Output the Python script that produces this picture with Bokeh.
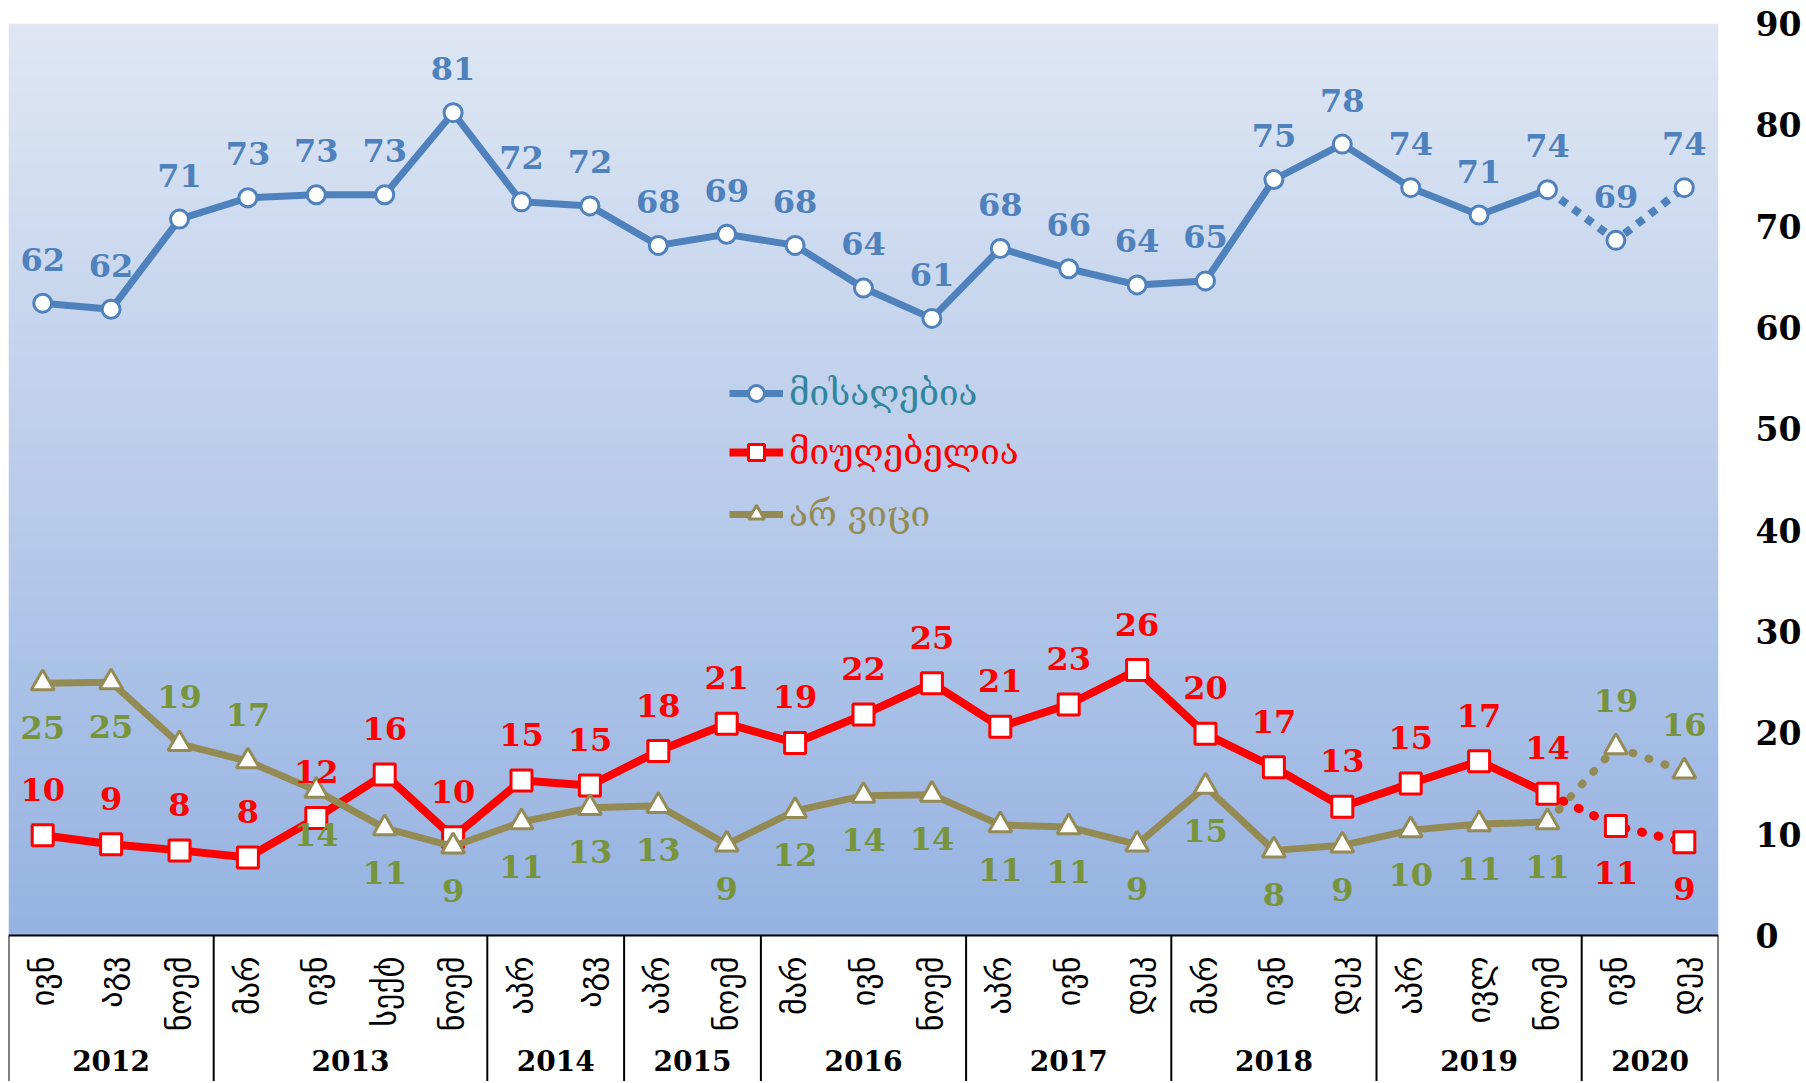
import numpy as np
from bokeh.plotting import figure
from bokeh.models import ColumnDataSource, FixedTicker, Legend, LegendItem, Range1d
from bokeh.core.properties import value
from bokeh.embed import file_html
from bokeh.resources import INLINE

# ---------------- data ----------------
years = ["2012", "2013", "2014", "2015", "2016", "2017", "2018", "2019", "2020"]
months = [
    ["ივნ", "აგვ", "ნოემ"],
    ["მარ", "ივნ", "სექტ", "ნოემ"],
    ["აპრ", "აგვ"],
    ["აპრ", "ნოემ"],
    ["მარ", "ივნ", "ნოემ"],
    ["აპრ", "ივნ", "დეკ"],
    ["მარ", "ივნ", "დეკ"],
    ["აპრ", "ივლ", "ნოემ"],
    ["ივნ", "დეკ"],
]
series_names = ["მისაღებია", "მიუღებელია", "არ ვიცი"]
acceptable = [62.4, 61.8, 70.7, 72.8, 73.1, 73.1, 81.2, 72.4, 72.0, 68.1, 69.2, 68.1, 63.9,
              60.9, 67.8, 65.8, 64.2, 64.6, 74.6, 78.1, 73.8, 71.1, 73.6, 68.6, 73.8]
unacceptable = [9.9, 9.0, 8.4, 7.7, 11.6, 15.9, 9.7, 15.3, 14.8, 18.2, 20.9, 19.0, 21.8,
                24.9, 20.6, 22.8, 26.2, 19.9, 16.6, 12.7, 15.0, 17.2, 14.0, 10.8, 9.2]
dont_know = [24.9, 25.0, 18.9, 17.2, 14.3, 10.6, 8.8, 11.2, 12.6, 12.8, 9.0, 12.3, 13.8,
             13.9, 10.9, 10.7, 9.0, 14.7, 8.4, 8.9, 10.4, 11.0, 11.2, 18.6, 16.2]
y_ticks = [0, 10, 20, 30, 40, 50, 60, 70, 80, 90]

# ---------------- styles ----------------
BLUE = "#4F81BD"
RED = "#FF0000"
OLIVE = "#948A54"
OLIVE_TXT = "#77933C"
TEAL_TXT = "#31859C"
SERIF = value("DejaVu Serif")

W, H = 1804, 1081
LEFT, TOP, RIGHT = 8, 23, 84
TABLE_PX = 146
PX_PER_UNIT = (H - TOP - TABLE_PX) / 90.0   # plot area 0..90, table below
y_bottom = -TABLE_PX / PX_PER_UNIT

month_labels = [m for grp in months for m in grp]
n = len(month_labels)
xs = list(range(n))
n_solid = n - len(months[-1])          # last year drawn dotted

p = figure(width=W, height=H, output_backend="svg", toolbar_location=None,
           x_range=Range1d(-0.5, n - 0.5), y_range=Range1d(y_bottom, 90),
           x_axis_location=None, y_axis_location="right",
           min_border_left=LEFT, min_border_top=TOP, min_border_bottom=0,
           min_border_right=RIGHT, background_fill_color="white",
           border_fill_color="white", outline_line_color=None)
p.grid.visible = False

# gradient background of the plot area
ng = 256
t = np.linspace(0, 1, ng)[:, None]
c_bot = np.array([0x96, 0xB3, 0xE2], dtype=float)
c_top = np.array([0xDF, 0xE7, 0xF4], dtype=float)
rgb = c_bot + (c_top - c_bot) * t
img = np.empty((ng, 2), dtype=np.uint32)
view = img.view(dtype=np.uint8).reshape((ng, 2, 4))
for k in range(3):
    view[:, :, k] = rgb[:, k][:, None].astype(np.uint8)
view[:, :, 3] = 255
p.image_rgba(image=[img], x=-0.5, y=0, dw=n, dh=90)

# y axis
ax = p.yaxis[0]
ax.ticker = FixedTicker(ticks=y_ticks)
ax.axis_line_color = None
ax.major_tick_line_color = None
ax.minor_tick_line_color = None
ax.major_label_standoff = 31
ax.major_label_text_font = "DejaVu Serif"
ax.major_label_text_font_style = "bold"
ax.major_label_text_font_size = "33px"
ax.major_label_text_color = "black"

# table under the plot
bounds = [-0.5]
for grp in months:
    bounds.append(bounds[-1] + len(grp))
p.segment(x0=[-0.5], y0=[0], x1=[n - 0.5], y1=[0], line_color="black", line_width=2)
p.segment(x0=bounds, y0=[0] * len(bounds), x1=bounds, y1=[y_bottom] * len(bounds),
          line_color="black", line_width=2)
p.text(x=xs, y=[-21 / PX_PER_UNIT] * n, text=month_labels, angle=np.pi / 2,
       text_align="right", text_baseline="middle", text_font=value("DejaVu Sans"),
       text_font_size="32px", text_color="black")
year_x = [(bounds[i] + bounds[i + 1]) / 2 for i in range(len(years))]
p.text(x=year_x, y=[-125 / PX_PER_UNIT] * len(years), text=years,
       text_align="center", text_baseline="middle", text_font=SERIF,
       text_font_style="bold", text_font_size="28px", text_color="black")

# series
specs = [
    (acceptable, BLUE, BLUE, "circle", 18, "8 8", "butt", 7, [-44] * n),
    (unacceptable, RED, RED, "square", 21, "1 16", "round", 8,
     [-46] * n_solid + [46] * (n - n_solid)),
    (dont_know, OLIVE, OLIVE_TXT, "triangle", 23, "1 16", "round", 7,
     [44, 44, -47, -47] + [44] * (n_solid - 4) + [-47] * (n - n_solid)),
]
legend_entries = []
for vals, col, tcol, mk, size, dash, cap, lw, offs in specs:
    ln = p.line(xs[:n_solid], vals[:n_solid], line_color=col, line_width=lw, line_join="round")
    p.line(xs[n_solid - 1:], vals[n_solid - 1:], line_color=col, line_width=lw + 1,
           line_dash=dash, line_cap=cap)
    sc = p.scatter(xs, vals, marker=mk, size=size, fill_color="white", line_color=col,
                   line_width=3)
    legend_entries.append((ln, sc))

for vals, col, tcol, mk, size, dash, cap, lw, offs in specs:
    src = ColumnDataSource(dict(x=xs, y=vals, t=[f"{round(v):d}" for v in vals], off=offs))
    p.text(x="x", y="y", text="t", y_offset="off", source=src, text_align="center",
           text_baseline="middle", text_font=SERIF, text_font_style="bold",
           text_font_size="32px", text_color=tcol)

# legends (one per entry so each label has its own colour)
leg_colors = [TEAL_TXT, RED, OLIVE]
leg_centers = [393, 452, 514]
for (ln, sc), name, lc, cy in zip(legend_entries, series_names, leg_colors, leg_centers):
    lg = Legend(items=[LegendItem(label=value(name), renderers=[ln, sc])],
                location=(721, H - (cy + 20)), padding=0, margin=0,
                glyph_width=54, glyph_height=40, label_height=40, label_standoff=6,
                label_text_font="DejaVu Serif", label_text_font_size="35px",
                label_text_color=lc, background_fill_alpha=0, border_line_color=None)
    p.add_layout(lg, "center")

open("out.html", "w").write(file_html(p, INLINE))
